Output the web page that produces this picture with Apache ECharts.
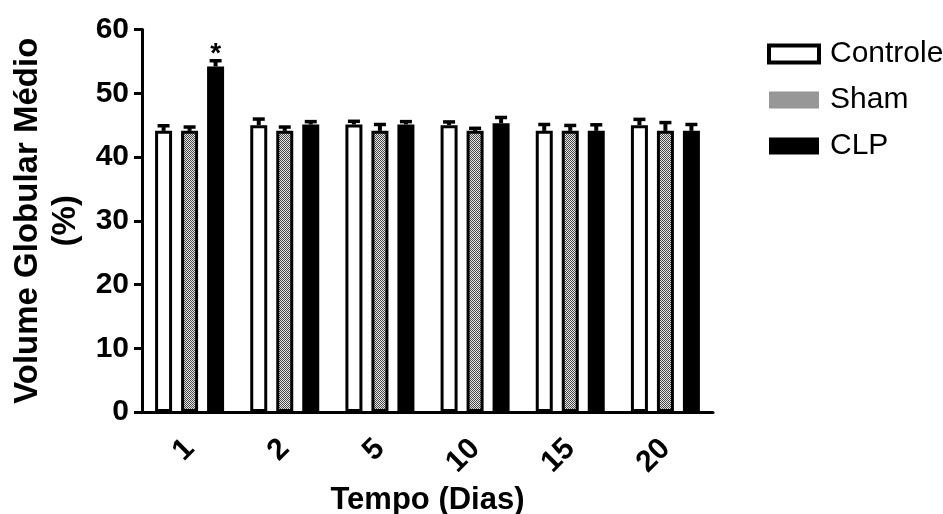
<!DOCTYPE html>
<html>
<head>
<meta charset="utf-8">
<script src="https://cdn.jsdelivr.net/npm/echarts@6/dist/echarts.min.js"></script>
<style>
  html, body { margin: 0; padding: 0; background: #ffffff; }
  #chart { width: 943px; height: 514px; }
</style>
</head>
<body>
<div id="chart"></div>
<script>
// Days after the procedure
const categories = ['1', '2', '5', '10', '15', '20'];
const groupNames = ['Controle', 'Sham', 'CLP'];

// Mean packed cell volume (%) per group
const controle = [44.1, 45.0, 45.1, 45.0, 44.1, 45.0];
const sham     = [44.1, 44.1, 44.1, 44.1, 44.1, 44.1];
const clp      = [54.2, 45.1, 45.1, 45.3, 44.1, 44.1];

// Standard error of the mean (drawn upward only)
const controleErr = [0.8, 0.95, 0.5, 0.5, 1.0, 0.9];
const shamErr     = [0.6, 0.6, 1.0, 0.4, 0.85, 1.3];
const clpErr      = [0.9, 0.45, 0.45, 0.9, 0.95, 1.0];

// Significance marks above the CLP bars
const clpMarks = ['*', '', '', '', '', ''];

// Y axis ticks
const yMin = 0, yMax = 60, yStep = 10;

const FONT = '"Liberation Sans", Arial, sans-serif';
const BAR_W = 17;
const BAR_GAP = 9;        // px between bars in a group
const BORDER = 3;

// Fine grey stipple used for the Sham bars
function stipple() {
  const c = document.createElement('canvas');
  c.width = 2; c.height = 2;
  const ctx = c.getContext('2d');
  ctx.fillStyle = '#e4e4e4'; ctx.fillRect(0, 0, 2, 2);
  ctx.fillStyle = '#4a4a4a';
  ctx.fillRect(0, 0, 1, 1);
  ctx.fillRect(1, 1, 1, 1);
  return { image: c, repeat: 'repeat' };
}
const shamFill = stipple();

const styles = [
  { color: '#ffffff', borderColor: '#000000', borderWidth: BORDER },
  { color: shamFill, borderColor: '#000000', borderWidth: BORDER },
  { color: '#000000', borderColor: '#000000', borderWidth: BORDER }
];
const means = [controle, sham, clp];
const errs = [controleErr, shamErr, clpErr];

function errorSeries(idx) {
  const offset = (idx - 1) * (BAR_W + BAR_GAP);
  const rows = categories.map((c, i) => [i, means[idx][i], errs[idx][i], idx === 2 ? clpMarks[i] : '']);
  return {
    type: 'custom',
    name: groupNames[idx] + ' SEM',
    z: 1,
    silent: true,
    data: rows,
    encode: { x: 0, y: 1 },
    renderItem: function (params, api) {
      const base = api.coord([api.value(0), api.value(1)]);
      const top = api.coord([api.value(0), api.value(1) + api.value(2)]);
      const x = base[0] + offset;
      const capHalf = 6;
      const children = [
        { type: 'line', shape: { x1: x, y1: base[1], x2: x, y2: top[1] },
          style: { stroke: '#000', lineWidth: 4 } },
        { type: 'line', shape: { x1: x - capHalf, y1: top[1], x2: x + capHalf, y2: top[1] },
          style: { stroke: '#000', lineWidth: 3.5 } }
      ];
      const mark = rows[params.dataIndex][3];
      if (mark) {
        children.push({
          type: 'text',
          style: {
            text: mark, x: x, y: top[1] + 8,
            align: 'center', verticalAlign: 'bottom',
            font: 'bold 28px ' + FONT, fill: '#000'
          }
        });
      }
      return { type: 'group', children: children };
    }
  };
}

const barSeries = groupNames.map((name, idx) => ({
  type: 'bar',
  name: name,
  data: means[idx],
  barWidth: BAR_W,
  barGap: (BAR_GAP / BAR_W * 100) + '%',
  itemStyle: styles[idx],
  z: 2,
  emphasis: { disabled: true }
}));

const chart = echarts.init(document.getElementById('chart'), null, { renderer: 'canvas' });

chart.setOption({
  animation: false,
  backgroundColor: '#ffffff',
  textStyle: { fontFamily: FONT },
  grid: { left: 142, right: 230, top: 29.5, bottom: 102, containLabel: false, outerBoundsMode: 'none' },
  legend: {
    orient: 'vertical',
    left: 762,
    top: 34,
    itemWidth: 50,
    itemHeight: 17,
    itemGap: 16,
    icon: 'rect',
    textStyle: { fontSize: 30, color: '#000', fontFamily: FONT, lineHeight: 30, padding: [0, 0, 0, 6] },
    data: [
      { name: 'Controle', itemStyle: { color: '#ffffff', borderColor: '#000', borderWidth: 4 } },
      { name: 'Sham', itemStyle: { color: shamFill, borderColor: '#000', borderWidth: 0 } },
      { name: 'CLP', itemStyle: { color: '#000000', borderColor: '#000', borderWidth: 0 } }
    ],
    selectedMode: false
  },
  xAxis: {
    type: 'category',
    data: categories,
    boundaryGap: true,
    name: 'Tempo (Dias)',
    nameLocation: 'middle',
    nameGap: 67,
    nameTextStyle: { fontSize: 31, fontWeight: 'bold', color: '#000', fontFamily: FONT },
    axisLine: { lineStyle: { color: '#000', width: 3 } },
    axisTick: { alignWithLabel: true, length: 11, lineStyle: { color: '#000', width: 3 } },
    axisLabel: { rotate: 45, margin: 32, fontSize: 30, fontWeight: 'bold', color: '#000', fontFamily: FONT },
    splitLine: { show: false }
  },
  yAxis: {
    type: 'value',
    min: yMin,
    max: yMax,
    interval: yStep,
    name: 'Volume Globular Médio\n(%)',
    nameLocation: 'middle',
    nameRotate: 90,
    nameGap: 49,
    nameTextStyle: { fontSize: 33, fontWeight: 'bold', color: '#000', fontFamily: FONT, lineHeight: 38 },
    axisLine: { show: true, lineStyle: { color: '#000', width: 3 } },
    axisTick: { show: true, length: 8, lineStyle: { color: '#000', width: 3 } },
    axisLabel: { margin: 13, fontSize: 30, fontWeight: 'bold', color: '#000', fontFamily: FONT },
    splitLine: { show: false }
  },
  series: barSeries.concat([errorSeries(0), errorSeries(1), errorSeries(2)])
});
</script>
</body>
</html>
